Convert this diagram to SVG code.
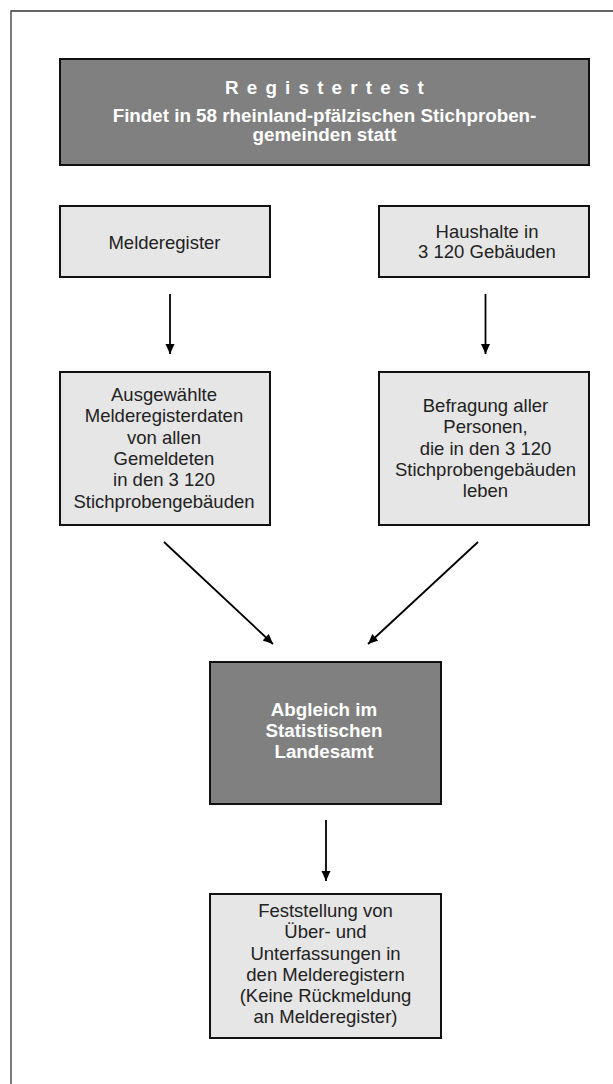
<svg xmlns="http://www.w3.org/2000/svg" width="613" height="1084" viewBox="0 0 613 1084">
<style>
.frame{stroke:#333;stroke-width:1.3;fill:none}
.dark{fill:#808080;stroke:#111;stroke-width:2}
.light{fill:#e6e6e6;stroke:#111;stroke-width:2}
.t{font-family:"Liberation Sans",Arial,sans-serif;font-size:18.5px;fill:#222;text-anchor:middle}
.tb{font-family:"Liberation Sans",Arial,sans-serif;font-size:18.8px;font-weight:bold;fill:#fff;text-anchor:middle}
.c{stroke:#000;stroke-width:1.8;fill:none;marker-end:url(#ah)}
</style>
<defs>
<marker id="ah" markerWidth="12" markerHeight="12" refX="10" refY="5.5" orient="auto" markerUnits="userSpaceOnUse">
<path d="M0,1 L10,5.5 L0,10 Z" fill="#000"/>
</marker>
</defs>
<rect width="613" height="1084" fill="#fff"/>
<path class="frame" d="M11,1084 L11,11 L613,11"/>
<g id="n-registertest">
<rect class="dark" x="60" y="59" width="529" height="106"/>
<text class="tb" x="328.5" y="94" font-size="21px" letter-spacing="8.2">Registertest</text>
<text class="tb" x="324.5" y="122">Findet in 58 rheinland-pfälzischen Stichproben-</text>
<text class="tb" x="324.5" y="141">gemeinden statt</text>
</g>
<g id="n-melderegister">
<rect class="light" x="60" y="206" width="210" height="71"/>
<text class="t" x="164.5" y="249">Melderegister</text>
</g>
<g id="n-haushalte">
<rect class="light" x="379" y="206" width="210" height="71"/>
<text class="t" x="487" y="238">Haushalte in</text>
<text class="t" x="487" y="258">3 120 Gebäuden</text>
</g>
<g id="n-ausgewaehlte">
<rect class="light" x="60" y="372" width="210" height="153"/>
<text class="t" x="164" y="401">Ausgewählte</text>
<text class="t" x="164" y="422">Melderegisterdaten</text>
<text class="t" x="164" y="444">von allen</text>
<text class="t" x="164" y="465">Gemeldeten</text>
<text class="t" x="164" y="486">in den 3 120</text>
<text class="t" x="164" y="508">Stichprobengebäuden</text>
</g>
<g id="n-befragung">
<rect class="light" x="379" y="372" width="210" height="153"/>
<text class="t" x="485.5" y="412">Befragung aller</text>
<text class="t" x="485.5" y="433">Personen,</text>
<text class="t" x="485.5" y="455">die in den 3 120</text>
<text class="t" x="485.5" y="476">Stichprobengebäuden</text>
<text class="t" x="485.5" y="497">leben</text>
</g>
<g id="n-abgleich">
<rect class="dark" x="210" y="662" width="231" height="142" fill="#858585"/>
<text class="tb" x="324" y="716">Abgleich im</text>
<text class="tb" x="324" y="737">Statistischen</text>
<text class="tb" x="324" y="758">Landesamt</text>
</g>
<g id="n-feststellung">
<rect class="light" x="210" y="894" width="231" height="144"/>
<text class="t" x="325.5" y="917">Feststellung von</text>
<text class="t" x="325.5" y="938">Über- und</text>
<text class="t" x="325.5" y="960">Unterfassungen in</text>
<text class="t" x="325.5" y="981">den Melderegistern</text>
<text class="t" x="325.5" y="1002">(Keine Rückmeldung</text>
<text class="t" x="325.5" y="1023">an Melderegister)</text>
</g>
<g id="connectors">
<line class="c" x1="170" y1="294" x2="170" y2="354"/>
<line class="c" x1="485.5" y1="294" x2="485.5" y2="354"/>
<line class="c" x1="164" y1="542" x2="273" y2="644"/>
<line class="c" x1="478" y1="542" x2="368" y2="644"/>
<line class="c" x1="326" y1="820" x2="326" y2="881"/>
</g>
</svg>
